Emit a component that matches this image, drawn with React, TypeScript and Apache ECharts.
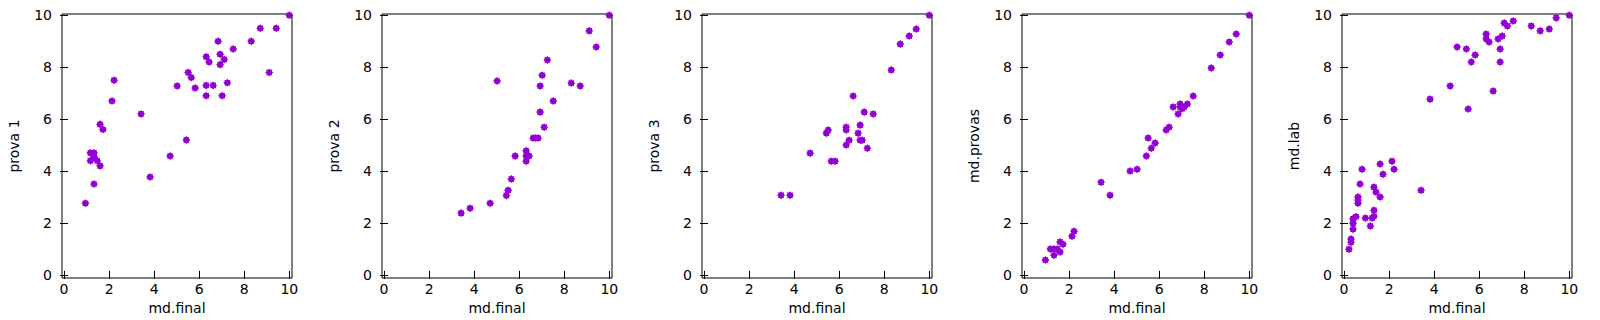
import React, { useEffect, useRef } from "react";
import * as echarts from "echarts";

const xTitle = "md.final";
const yTitles = ["prova 1", "prova 2", "prova 3", "md.provas", "md.lab"];
const tickValues = [0, 2, 4, 6, 8, 10];

const p1X = [0.95, 1.33, 1.17, 1.33, 1.33, 1.17, 1.47, 1.6, 1.6, 1.73, 2.13, 2.22, 3.42, 3.82, 4.71, 5.02, 5.43, 5.51, 5.65, 5.82, 6.31, 6.44, 6.31, 6.31, 6.62, 6.84, 6.93, 6.93, 7.11, 7.02, 7.25, 7.51, 8.31, 8.71, 9.11, 9.42, 10];
const p1Y = [2.76, 3.5, 4.7, 4.7, 4.55, 4.4, 4.4, 4.2, 5.8, 5.6, 6.7, 7.5, 6.2, 3.77, 4.58, 7.28, 5.2, 7.8, 7.6, 7.2, 8.4, 8.2, 7.3, 6.9, 7.3, 9.0, 8.5, 8.1, 8.3, 6.9, 7.4, 8.7, 9.0, 9.5, 7.8, 9.5, 10];

const p2X = [3.42, 3.82, 4.71, 5.02, 5.43, 5.51, 5.65, 5.82, 6.31, 6.31, 6.44, 6.31, 6.62, 6.73, 6.84, 6.93, 6.93, 7.02, 7.11, 7.25, 7.51, 8.31, 8.71, 9.11, 9.42, 10];
const p2Y = [2.38, 2.57, 2.76, 7.47, 3.06, 3.26, 3.69, 4.58, 4.78, 4.58, 4.58, 4.38, 5.27, 5.27, 5.27, 6.27, 7.28, 7.69, 5.69, 8.28, 6.7, 7.39, 7.28, 9.4, 8.78, 10];

const p3X = [3.42, 3.82, 4.71, 5.43, 5.51, 5.65, 5.82, 6.31, 6.31, 6.31, 6.44, 6.62, 6.84, 6.93, 6.93, 7.02, 7.11, 7.25, 7.51, 8.31, 8.71, 9.11, 9.42, 10];
const p3Y = [3.07, 3.07, 4.69, 5.46, 5.58, 4.38, 4.38, 5.69, 5.58, 5.0, 5.19, 6.89, 5.46, 5.77, 5.19, 5.19, 6.27, 4.88, 6.2, 7.89, 8.89, 9.2, 9.47, 10];

const p4X = [0.95, 1.17, 1.33, 1.47, 1.33, 1.6, 1.6, 1.73, 2.13, 2.22, 3.42, 3.82, 4.71, 5.02, 5.43, 5.51, 5.65, 5.82, 6.31, 6.44, 6.62, 6.84, 6.93, 6.93, 7.02, 7.11, 7.25, 7.51, 8.31, 8.71, 9.11, 9.42, 10];
const p4Y = [0.57, 1.0, 1.0, 1.0, 0.76, 1.27, 0.88, 1.18, 1.49, 1.68, 3.57, 3.07, 4.0, 4.07, 4.58, 5.27, 4.88, 5.08, 5.58, 5.69, 6.47, 6.2, 6.58, 6.47, 6.4, 6.47, 6.58, 6.89, 7.97, 8.47, 8.97, 9.28, 10];

const p5X = [0.22, 0.31, 0.31, 0.4, 0.4, 0.4, 0.53, 0.62, 0.62, 0.62, 0.71, 0.8, 0.95, 1.17, 1.25, 1.33, 1.33, 1.33, 1.42, 1.6, 1.6, 1.73, 2.13, 2.22, 3.42, 3.82, 4.71, 5.02, 5.43, 5.51, 5.65, 5.82, 6.31, 6.31, 6.44, 6.62, 6.84, 6.93, 6.93, 7.02, 7.11, 7.25, 7.51, 8.31, 8.71, 9.11, 9.42, 10];
const p5Y = [0.99, 1.38, 1.26, 1.76, 1.99, 2.16, 2.24, 2.76, 2.88, 3.0, 3.5, 4.07, 2.19, 1.88, 2.19, 2.26, 2.49, 3.38, 3.19, 3.0, 4.27, 3.88, 4.38, 4.07, 3.26, 6.77, 7.28, 8.78, 8.7, 6.39, 8.2, 8.47, 9.28, 9.09, 8.97, 7.08, 9.09, 8.7, 8.2, 9.2, 9.7, 9.59, 9.78, 9.59, 9.4, 9.47, 9.9, 10];

const panelsX = [p1X, p2X, p3X, p4X, p5X];
const panelsY = [p1Y, p2Y, p3Y, p4Y, p5Y];

const X_MIN = -0.09;
const X_MAX = 10.12;
const Y_MIN = -0.12;
const Y_MAX = 10.05;

const FONT = "DejaVu Sans";
const COLOR = "#9400d3";
const STAR =
  "path://M20 10 L16.93 12.87 L17.07 17.07 L12.87 16.93 L10 20 L7.13 16.93 L2.93 17.07 L3.07 12.87 L0 10 L3.07 7.13 L2.93 2.93 L7.13 3.07 L10 0 L12.87 3.07 L17.07 2.93 L16.93 7.13 Z";

export default function App() {
  const ref = useRef<HTMLDivElement>(null);
  useEffect(() => {
    if (!ref.current) return;
    const chart = echarts.init(ref.current, null, { renderer: "svg" });
    const grids: any[] = [];
    const xAxes: any[] = [];
    const yAxes: any[] = [];
    const series: any[] = [];
    for (let i = 0; i < 5; i++) {
      grids.push({
        left: 320 * i + 62,
        top: 14,
        width: 230,
        height: 264,
        show: true,
        borderColor: "#000",
        borderWidth: 1,
        containLabel: false,
      });
      const tick = { show: true, inside: true, length: 4, lineStyle: { color: "#000", width: 1 }, customValues: tickValues };
      const baseX = {
        type: "value",
        gridIndex: i,
        min: X_MIN,
        max: X_MAX,
        splitLine: { show: false },
        axisLine: { show: false },
        axisTick: tick,
      };
      xAxes.push({
        ...baseX,
        position: "bottom",
        name: xTitle,
        nameLocation: "middle",
        nameGap: 23,
        nameTextStyle: { color: "#000", fontFamily: FONT, fontSize: 14 },
        axisLabel: { show: true, customValues: tickValues, margin: 4, color: "#000", fontFamily: FONT, fontSize: 14 },
      });
      xAxes.push({ ...baseX, position: "top", axisLabel: { show: false } });
      const baseY = {
        type: "value",
        gridIndex: i,
        min: Y_MIN,
        max: Y_MAX,
        splitLine: { show: false },
        axisLine: { show: false },
        axisTick: tick,
      };
      yAxes.push({
        ...baseY,
        position: "left",
        name: yTitles[i],
        nameLocation: "middle",
        nameGap: 41,
        nameTextStyle: { color: "#000", fontFamily: FONT, fontSize: 14 },
        axisLabel: { show: true, customValues: tickValues, margin: 10, color: "#000", fontFamily: FONT, fontSize: 14 },
      });
      yAxes.push({ ...baseY, position: "right", axisLabel: { show: false } });
      series.push({
        type: "scatter",
        xAxisIndex: 2 * i,
        yAxisIndex: 2 * i,
        symbol: STAR,
        symbolSize: 8,
        itemStyle: { color: COLOR, opacity: 1 },
        data: panelsX[i].map((x, k) => [x, panelsY[i][k]]),
      });
    }
    chart.setOption({
      animation: false,
      backgroundColor: "#fff",
      grid: grids,
      xAxis: xAxes,
      yAxis: yAxes,
      series,
    });
    return () => chart.dispose();
  }, []);
  return <div ref={ref} style={{ position: "absolute", left: 0, top: 0, width: 1600, height: 320 }} />;
}
